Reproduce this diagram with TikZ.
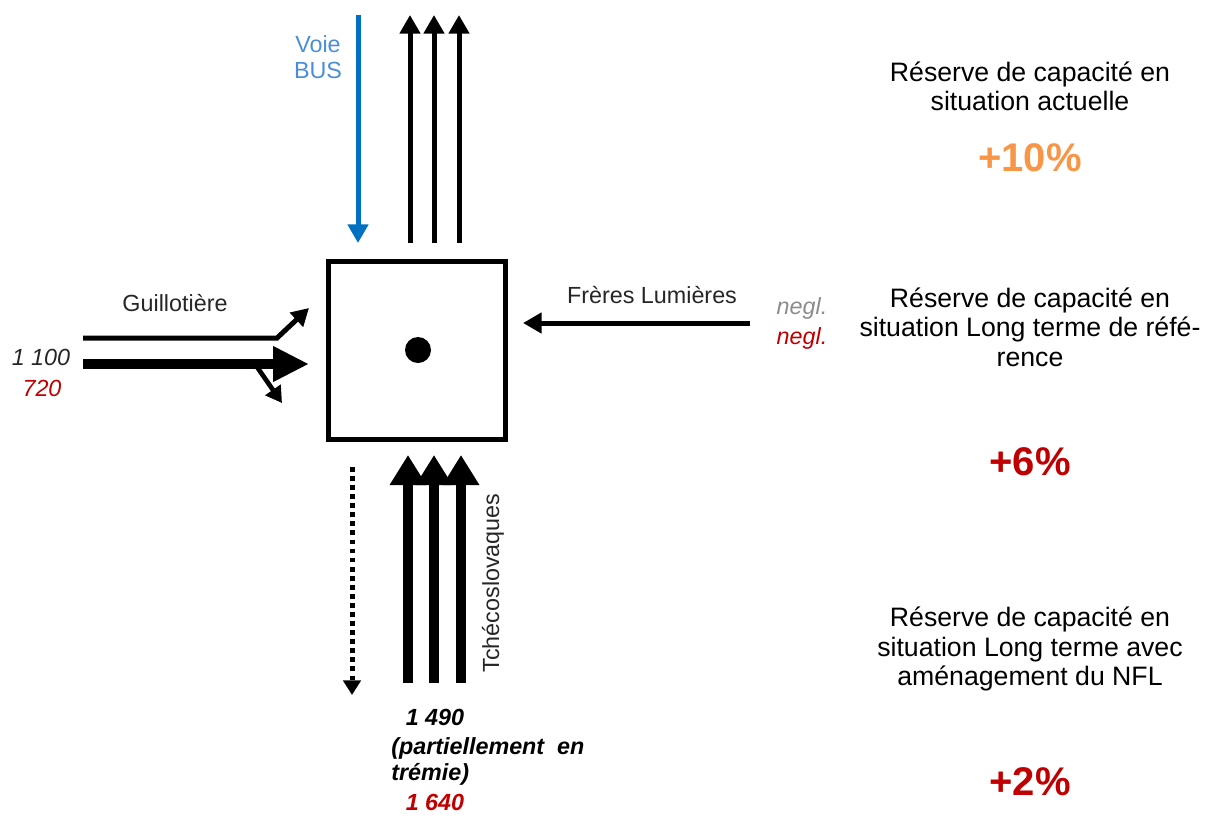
\documentclass[tikz,border=0pt]{standalone}
\usepackage{fontspec}
\setmainfont{Liberation Sans}
\usepackage{tikz}
\usetikzlibrary{arrows.meta, positioning}

\definecolor{busblue}{RGB}{0,112,192}
\definecolor{buslabel}{RGB}{75,142,214}
\definecolor{refred}{RGB}{192,0,0}
\definecolor{actorange}{RGB}{247,150,70}
\definecolor{labelgray}{RGB}{38,38,38}
\definecolor{neglgray}{RGB}{140,140,140}

\begin{document}
\begin{tikzpicture}[x=0.75pt, y=-0.75pt,
  flow/.style={line width=3.75pt, -{Triangle[width=15pt,length=14pt]}},
  heavy/.style={line width=7.5pt, -{Triangle[width=26pt,length=22.5pt]}},
  branch/.style={line width=3.5pt, -{Triangle[width=13.5pt,length=12pt]}},
  lbl/.style={text=labelgray, font=\fontsize{17.5}{20}\selectfont, inner sep=0pt},
  reserve/.style={align=center, font=\fontsize{20}{22}\selectfont, inner sep=0pt},
  gain/.style={font=\bfseries\fontsize{30}{36}\selectfont, inner sep=0pt}]

\useasboundingbox (0,0) rectangle (1211,815);

% Crossroads
\node[draw, line width=3.75pt, minimum width=133pt, minimum height=133.5pt] (carrefour) at (417,350.5) {};
\node[circle, fill, inner sep=0pt, minimum size=19.5pt] (feu) at (418,350) {};

% North exit
\coordinate (n1a) at (410,243); \coordinate (n1b) at (410,15);
\coordinate (n2a) at (434,243); \coordinate (n2b) at (434,15);
\coordinate (n3a) at (459,243); \coordinate (n3b) at (459,15);
\draw[flow] (n1a) -- (n1b);
\draw[flow] (n2a) -- (n2b);
\draw[flow] (n3a) -- (n3b);

% Bus lane
\coordinate (busa) at (358,15); \coordinate (busb) at (358,243);
\draw[flow, busblue] (busa) -- (busb);
\node[lbl, text=buslabel, align=center] (voie) at (318,57) {Voie\\BUS};

% Freres Lumieres
\coordinate (fla) at (750,323); \coordinate (flb) at (523,323);
\draw[flow] (fla) -- (flb);
\node[lbl] (freres) at (652,295) {Frères Lumières};
\node[lbl, font=\itshape\fontsize{17.5}{20}\selectfont, text=neglgray] (negl1) at (802,308) {negl.};
\node[lbl, font=\itshape\fontsize{17.5}{20}\selectfont, text=refred] (negl2) at (802,338) {negl.};

% Guillotiere
\coordinate (g1a) at (83,338); \coordinate (g1k) at (277,338); \coordinate (g1b) at (309,308);
\draw[line width=3.75pt, -{Triangle[width=14pt,length=13pt]}] (g1a) -- (g1k) -- (g1b);
\coordinate (g2a) at (83,364); \coordinate (g2b) at (309,364);
\draw[line width=7.5pt, -{Triangle[width=25pt,length=27pt]}] (g2a) -- (g2b);
\coordinate (g3a) at (255,364); \coordinate (g3b) at (282,403);
\draw[branch] (g3a) -- (g3b);
\node[lbl] (guillo) at (175,303) {Guillotière};
\node[lbl, font=\itshape\fontsize{17.5}{20}\selectfont] (q1) at (41,357) {1 100};
\node[lbl, font=\itshape\fontsize{17.5}{20}\selectfont, text=refred] (q2) at (42,388) {720};

% Tchecoslovaques
\coordinate (s1a) at (408,683); \coordinate (s1b) at (408,455);
\coordinate (s2a) at (434,683); \coordinate (s2b) at (434,455);
\coordinate (s3a) at (461,683); \coordinate (s3b) at (461,455);
\draw[heavy] (s1a) -- (s1b);
\draw[heavy] (s2a) -- (s2b);
\draw[heavy] (s3a) -- (s3b);
\coordinate (sda) at (352,467); \coordinate (sdb) at (352,695);
\draw[line width=3.75pt, dash pattern=on 3.6pt off 3.2pt, -{Triangle[width=13pt,length=11pt]}] (sda) -- (sdb);
\node[lbl, rotate=90] (tcheco) at (493,583) {Tchécoslovaques};

\node[lbl, text=black, font=\bfseries\itshape\fontsize{17.5}{20}\selectfont] (q3) at (435,717) {1 490};
\node[lbl, text=black, anchor=west, font=\bfseries\itshape\fontsize{17.5}{20}\selectfont] (q4) at (391,748) {(partiellement\ \ en};
\node[lbl, text=black, anchor=west, font=\bfseries\itshape\fontsize{17.5}{20}\selectfont] (q5) at (391,774) {trémie)};
\node[lbl, text=refred, font=\bfseries\itshape\fontsize{17.5}{20}\selectfont] (q6) at (435,802) {1 640};

% Capacity reserves
\node[reserve] (res1) at (1030,86) {Réserve de capacité en\\situation actuelle};
\node[gain, text=actorange] (gain1) at (1030,158) {+10\%};
\node[reserve] (res2) at (1030,327) {Réserve de capacité en\\situation Long terme de réfé-\\rence};
\node[gain, text=refred] (gain2) at (1030,462) {+6\%};
\node[reserve] (res3) at (1030,649) {Réserve de capacité en\\situation Long terme avec\\aménagement du NFL};
\node[gain, text=refred] (gain3) at (1030,782) {+2\%};
\end{tikzpicture}
\end{document}
